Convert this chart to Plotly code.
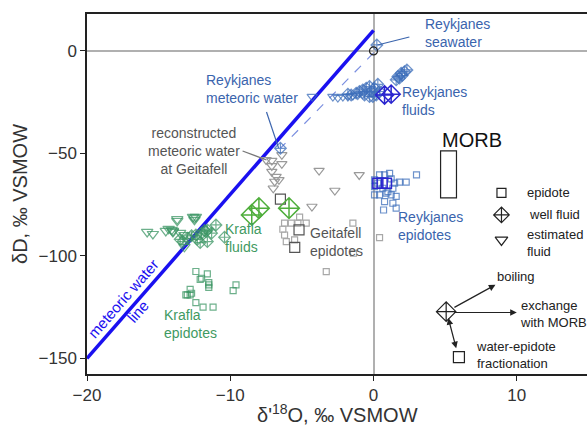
import plotly.graph_objects as go

# ---------------- data ----------------
# meteoric water line and mixing line
mwl_x = [-20, 0]
mwl_y = [-150, 10]
mix_x = [0.0, -6.5]
mix_y = [-1.0, -47.5]

# Reykjanes
rk_sw_x, rk_sw_y = [0.0], [0.0]
rk_swd_x, rk_swd_y = [0.23], [2.9]
rk_met_x, rk_met_y = [-6.5], [-47.5]
rk_fl_x = [-1.21, -0.98, -0.75, -0.51, -0.28, -0.16, 0.07, 0.19, 0.42, -0.63, -0.28, -1.56, -1.79, -0.05, 0.30,
           1.58, 1.81, 2.00, 2.16, 2.33, 1.93, 1.70]
rk_fl_y = [-20.6, -19.8, -19.0, -18.2, -17.4, -19.8, -18.2, -21.5, -19.8, -21.5, -22.3, -21.5, -21.1, -22.3, -16.3,
           -14.1, -13.3, -12.0, -10.1, -9.3, -10.9, -12.5]
rk_well_x = [0.77, 1.23]
rk_well_y = [-21.5, -21.1]
rk_est_x = [-4.28, -2.84, -2.49, -2.14, -1.79, -1.44, -1.10, -0.75]
rk_est_y = [-22.3, -22.3, -22.8, -22.3, -22.3, -21.8, -21.5, -21.1]
rk_ep_x = [0.07, 0.42, 0.77, 1.12, 1.23, 0.07, 0.65, 1.00, 1.35, 1.47, 1.81, 2.28, 3.00, 0.07, 0.42, 0.88, 1.23,
           1.58, 0.77, 1.35, 1.58, 0.70, 0.30]
rk_ep_y = [-62.9, -60.5, -60.5, -59.7, -62.4, -66.2, -67.0, -68.6, -67.0, -64.5, -64.0, -64.0, -60.5, -70.2, -70.2,
           -69.4, -70.2, -71.0, -73.5, -74.3, -76.7, -77.6, -64.5]
rk_epb_x = [0.3, 0.6, 0.9]
rk_epb_y = [-64.5, -64.5, -64.5]

# Krafla
kr_est_x = [-15.8, -15.4, -14.5, -14.3, -14.1, -14.0, -14.0, -13.7, -13.7, -12.6, -12.5, -12.4, -12.5, -13.5, -13.2, -13.2]
kr_est_y = [-88.3, -89.3, -87.8, -86.8, -87.3, -88.3, -87.8, -82.9, -82.0, -81.0, -81.5, -81.0, -82.4, -88.8, -89.8, -95.6]
kr_fl_x = [-13.5, -13.3, -13.0, -12.7, -12.4, -12.3, -12.0, -11.8, -11.7, -11.6, -11.6, -11.0, -11.3, -10.4, -12.1]
kr_fl_y = [-91.9, -93.0, -91.4, -90.2, -89.8, -91.9, -88.9, -87.6, -88.1, -87.3, -93.0, -84.9, -88.9, -90.9, -93.5]
kr_well_x = [-8.5, -8.0, -5.9]
kr_well_y = [-80.0, -76.7, -76.7]
kr_ep_x = [-12.4, -12.0, -11.6, -12.1, -11.5, -11.5, -11.5, -9.6, -9.8, -12.8, -12.7, -13.0, -13.1, -12.4, -11.9, -11.2, -12.8]
kr_ep_y = [-107.6, -110.9, -108.8, -111.4, -113.0, -114.1, -115.3, -114.1, -116.9, -116.3, -118.2, -119.0, -119.0,
           -122.8, -125.0, -125.0, -119.0]

# Geitafell
ge_est_x = [-7.5, -7.1, -7.1, -6.4, -7.1, -6.8, -6.6, -6.9, -7.0, -3.8, -1.0, -2.7, -4.3, -6.4]
ge_est_y = [-53.2, -53.5, -56.1, -55.1, -58.9, -61.3, -62.9, -63.7, -67.0, -58.4, -60.5, -68.1, -75.9, -50.7]
ge_ep_x = [-6.21, -5.74, -5.28, -4.70, -5.16, -6.21, -6.09, -5.51, -1.44, -1.40, -3.30, 0.42, -6.33]
ge_ep_y = [-84.0, -84.0, -84.0, -84.0, -81.1, -89.8, -93.0, -92.2, -84.0, -98.7, -107.7, -91.1, -87.0]
ge_epb_x = [-6.5, -5.2, -5.5]
ge_epb_y = [-72.3, -87.3, -95.8]

# MORB box
morb_x = [4.68, 5.79]
morb_y = [-71.7, -48.8]

# symbol key and process diagram
key_x = [8.93, 8.93, 8.93]
key_y = [-69.3, -80.0, -92.2]
proc_well_x, proc_well_y = [5.07], [-127.2]
proc_ep_x, proc_ep_y = [5.96], [-149.4]

BLUE_T = "#3a64ad"
RK = "rgba(60,110,185,0.75)"
DKB = "#2b26cf"
KR = "rgba(60,150,100,0.75)"
KR_T = "#3f9a62"
KG = "#4fae3c"
GL = "#a8a8a8"
GD = "#555555"
FONT = "Liberation Sans, Arial, sans-serif"

fig = go.Figure()

def sc(x, y, sym, color, size, width=1.2):
    fig.add_trace(go.Scatter(x=x, y=y, mode="markers", showlegend=False, hoverinfo="skip",
                             marker=dict(symbol=sym, size=size, color=color,
                                         line=dict(color=color, width=width))))

# lines
fig.add_trace(go.Scatter(x=mix_x, y=mix_y, mode="lines", showlegend=False,
                         line=dict(color="#7b8fe0", width=1.2, dash="dash")))
fig.add_trace(go.Scatter(x=mwl_x, y=mwl_y, mode="lines", showlegend=False,
                         line=dict(color="#1a10f0", width=3.5)))

# Geitafell
sc(ge_est_x, ge_est_y, "triangle-down-open", "#9a9a9a", 9)
sc(ge_ep_x, ge_ep_y, "square-open", GL, 6)
sc(ge_epb_x, ge_epb_y, "square-open", GD, 10)
# Krafla
sc(kr_est_x, kr_est_y, "triangle-down-open", KR, 10)
sc(kr_fl_x, kr_fl_y, "diamond-cross-open", KR, 9)
sc(kr_ep_x, kr_ep_y, "square-open", KR, 6)
sc(kr_well_x, kr_well_y, "diamond-cross-open", KG, 16, 1.5)
# Reykjanes
sc(rk_est_x, rk_est_y, "triangle-down-open", RK, 9)
sc(rk_fl_x, rk_fl_y, "diamond-cross-open", RK, 9)
sc(rk_well_x, rk_well_y, "diamond-cross-open", DKB, 14, 1.5)
sc(rk_ep_x, rk_ep_y, "square-open", RK, 6)
sc(rk_epb_x, rk_epb_y, "square-open", DKB, 10, 1.5)
sc(rk_met_x, rk_met_y, "diamond-cross-open", RK, 9)
sc(rk_swd_x, rk_swd_y, "diamond-cross-open", RK, 9)
sc(rk_sw_x, rk_sw_y, "circle-open", "#222222", 8)
# key
sc([key_x[0]], [key_y[0]], "square-open", "#222222", 9)
sc([key_x[1]], [key_y[1]], "diamond-cross-open", "#222222", 12)
sc([key_x[2]], [key_y[2]], "triangle-down-open", "#222222", 11)
sc(proc_well_x, proc_well_y, "diamond-cross-open", "#222222", 15)
sc(proc_ep_x, proc_ep_y, "square-open", "#222222", 11)

# MORB rectangle
fig.add_shape(type="rect", x0=morb_x[0], x1=morb_x[1], y0=morb_y[0], y1=morb_y[1],
              line=dict(color="#222222", width=1.2))

# leader lines
fig.add_shape(type="line", x0=0.28, y0=2.9, x1=2.5, y1=6.8, line=dict(color=BLUE_T, width=1.2))
fig.add_shape(type="line", x0=-7.47, y0=-29.8, x1=-6.63, y1=-47.3, line=dict(color=BLUE_T, width=1.2))
fig.add_shape(type="line", x0=-9.14, y0=-48.8, x1=-7.47, y1=-53.2, line=dict(color="#777777", width=1.2))

def txt(x, y, s, color, size=14, xanchor="left", align="left", angle=0):
    fig.add_annotation(x=x, y=y, xref="x", yref="y", text=s, showarrow=False,
                       xanchor=xanchor, yanchor="middle", align=align, textangle=angle,
                       font=dict(size=size, color=color, family=FONT))

txt(3.42, 8.8, "Reykjanes<br>seawater", BLUE_T)
txt(-11.86, -18.5, "Reykjanes<br>meteoric water", BLUE_T)
txt(-12.56, -48.8, "reconstructed<br>meteoric water<br>at Geitafell", "#555555", xanchor="center", align="center")
txt(1.88, -24.6, "Reykjanes<br>fluids", BLUE_T)
txt(6.84, -43.4, "MORB", "#111111", size=20, xanchor="center")
txt(1.6, -85.4, "Reykjanes<br>epidotes", BLUE_T)
txt(-4.6, -93.2, "Geitafell<br>epidotes", "#555555")
txt(-10.54, -91.2, "Krafla<br>fluids", KR_T)
txt(-14.8, -133.2, "Krafla<br>epidotes", KR_T)
txt(-16.96, -124.4, "meteoric water<br>line", "#1a10f0", size=15, xanchor="center", align="center", angle=-49)
txt(10.6, -69.3, "epidote", "#222222", size=13)
txt(10.68, -80.0, "well fluid", "#222222", size=13)
txt(10.55, -93.9, "estimated<br>fluid", "#222222", size=13)
txt(8.51, -109.8, "boiling", "#222222", size=13)
txt(10.1, -128.3, "exchange<br>with MORB", "#222222", size=13)
txt(6.98, -148.3, "water-epidote<br>fractionation", "#222222", size=13)

def arrow(x0, y0, x1, y1, both=False):
    fig.add_annotation(x=x1, y=y1, ax=x0, ay=y0, xref="x", yref="y", axref="x", ayref="y",
                       text="", showarrow=True, arrowhead=2, arrowsize=1.1, arrowwidth=1.2,
                       arrowcolor="#222222", arrowside="end+start" if both else "end")

arrow(5.54, -125.5, 8.51, -114.1)
arrow(5.54, -127.6, 10.0, -127.6)
arrow(5.19, -129.6, 5.77, -145.0, both=True)

# axis titles as paper annotations for exact placement
fig.add_annotation(x=0.5, y=0, xref="paper", yref="paper", yshift=-39, xanchor="center", yanchor="middle",
                   text="δ'<sup>18</sup>O, ‰ VSMOW", showarrow=False,
                   font=dict(size=20, color="#333333", family=FONT))
fig.add_annotation(x=0, y=0.5, xref="paper", yref="paper", xshift=-67, xanchor="center", yanchor="middle",
                   text="δD, ‰ VSMOW", showarrow=False, textangle=-90,
                   font=dict(size=20, color="#333333", family=FONT))

fig.update_layout(
    width=587, height=429,
    margin=dict(l=87, r=0, t=14, b=55),
    paper_bgcolor="white", plot_bgcolor="white",
    font=dict(family=FONT, color="#333333"),
    xaxis=dict(range=[-20, 14.9], tickvals=[-20, -10, 0, 10], showgrid=False,
               zeroline=True, zerolinecolor="#b0b0b0", zerolinewidth=1.5,
               showline=True, linecolor="#222222", linewidth=1.5, mirror=True,
               ticks="outside", ticklen=5, tickcolor="#222222", tickfont=dict(size=17)),
    yaxis=dict(range=[-157.6, 18], tickvals=[-150, -100, -50, 0], showgrid=False,
               zeroline=True, zerolinecolor="#b0b0b0", zerolinewidth=1.5,
               showline=True, linecolor="#222222", linewidth=1.5,
               ticks="outside", ticklen=5, tickcolor="#222222", tickfont=dict(size=17)),
)

fig.write_html("out.html")
